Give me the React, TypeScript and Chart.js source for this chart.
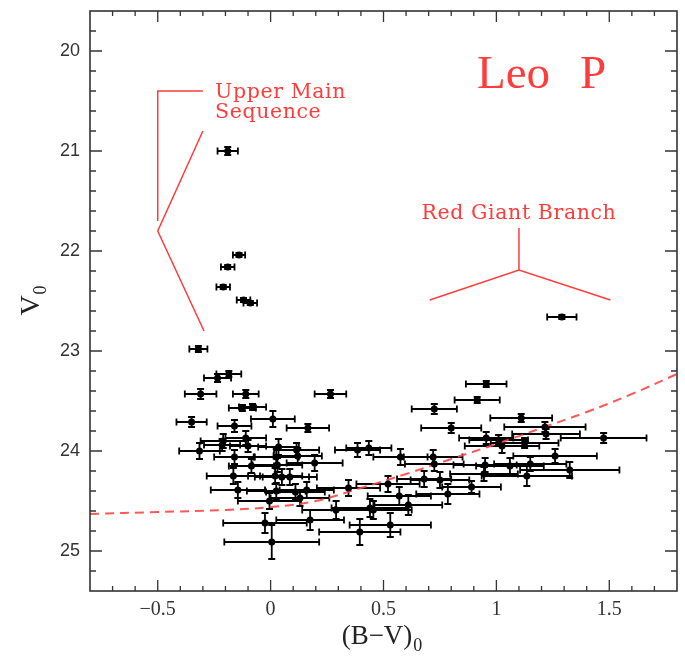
import React, { useEffect, useRef } from "react";
import { Chart, registerables } from "chart.js";
Chart.register(...registerables);

// (B-V)_0 colour of each star
const starColor = [
  -0.19, -0.14, -0.19, -0.21, -0.12, -0.09, 1.29,
  -0.32, -0.235, -0.185, -0.31, -0.11, 0.265, -0.125, -0.08, -0.35, -0.16, 0.01, 0.165,
  -0.21, -0.11, -0.315, -0.215, -0.1, 0.035, 0.115, -0.16, 0.025, 0.12, -0.085, 0.195,
  -0.165, 0.02, 0.05, 0.085, -0.145, 0.025, 0.11, 0.16, -0.005, -0.025, 0.175, 0.005,
  0.395, 0.29, 0.345, 0.385, 0.435, 0.44, 0.455, 0.53, 0.52, 0.03,
  0.955, 0.915, 0.725, 1.11, 0.8, 1.215, 1.22, 0.955, 1.01, 1.125, 1.475, 1.025,
  0.575, 0.72, 0.725, 1.26, 0.95, 1.06, 1.15, 1.325, 0.945, 1.135, 0.68, 0.75, 0.89,
  0.57, 0.785, 0.61, 0.13,
];
// V_0 magnitude of each star
const starMag = [
  21.0, 22.04, 22.16, 22.36, 22.49, 22.52, 22.66,
  22.98, 23.27, 23.23, 23.43, 23.43, 23.43, 23.57, 23.56, 23.71, 23.75, 23.68, 23.77,
  23.9, 23.87, 24.0, 23.94, 23.95, 23.96, 23.99, 24.06, 24.06, 24.05, 24.15, 24.12,
  24.25, 24.25, 24.26, 24.26, 24.39, 24.4, 24.41, 24.39, 24.5, 24.72, 24.69, 24.91,
  24.81, 24.59, 24.37, 23.99, 23.97, 24.57, 24.59, 24.74, 24.33, 24.14,
  23.33, 23.49, 23.58, 23.67, 23.77, 23.76, 23.83, 23.87, 23.89, 23.92, 23.87, 23.95,
  24.06, 24.06, 24.13, 24.05, 24.14, 24.15, 24.13, 24.19, 24.23, 24.25, 24.28, 24.29, 24.36,
  24.45, 24.43, 24.54, 24.47,
];
// colour uncertainty
const colorErr = [
  0.045, 0.027, 0.03, 0.03, 0.03, 0.03, 0.065,
  0.04, 0.06, 0.055, 0.07, 0.057, 0.07, 0.06, 0.06, 0.067, 0.075, 0.097, 0.094,
  0.1, 0.09, 0.09, 0.08, 0.08, 0.09, 0.1, 0.09, 0.1, 0.107, 0.1, 0.124,
  0.118, 0.12, 0.12, 0.12, 0.12, 0.13, 0.13, 0.12, 0.14, 0.185, 0.15, 0.21,
  0.18, 0.15, 0.14, 0.1, 0.1, 0.17, 0.17, 0.18, 0.14, 0.11,
  0.09, 0.1, 0.1, 0.137, 0.133, 0.18, 0.15, 0.12, 0.13, 0.15, 0.19, 0.165,
  0.12, 0.13, 0.13, 0.185, 0.14, 0.15, 0.16, 0.22, 0.15, 0.2, 0.12, 0.13, 0.13,
  0.14, 0.14, 0.15, 0.13,
];
// magnitude uncertainty
const magErr = [
  0.04, 0.02, 0.02, 0.02, 0.02, 0.02, 0.02,
  0.03, 0.04, 0.03, 0.05, 0.04, 0.04, 0.03, 0.03, 0.05, 0.06, 0.08, 0.04,
  0.07, 0.07, 0.08, 0.06, 0.06, 0.08, 0.07, 0.07, 0.08, 0.08, 0.07, 0.08,
  0.08, 0.08, 0.08, 0.08, 0.08, 0.08, 0.08, 0.08, 0.08, 0.1, 0.1, 0.17,
  0.13, 0.09, 0.08, 0.07, 0.07, 0.09, 0.09, 0.12, 0.08, 0.07,
  0.03, 0.03, 0.05, 0.04, 0.05, 0.05, 0.05, 0.06, 0.05, 0.05, 0.05, 0.07,
  0.08, 0.07, 0.07, 0.07, 0.07, 0.08, 0.07, 0.08, 0.07, 0.1, 0.08, 0.08, 0.06,
  0.09, 0.1, 0.1, 0.08,
];

// completeness limit (dashed curve)
const limitColor = [-0.8, -0.5, -0.2, 0, 0.2, 0.4, 0.6, 0.8, 1.0, 1.2, 1.4, 1.6, 1.8];
const limitMag = [24.63, 24.61, 24.59, 24.56, 24.5, 24.37, 24.23, 24.08, 23.93, 23.77, 23.61, 23.43, 23.23];

const xTicks = [-0.5, 0, 0.5, 1, 1.5];
const xTickLabels = ["\u22120.5", "0", "0.5", "1", "1.5"];
const yTicks = [20, 21, 22, 23, 24, 25];
const yTickLabels = ["20", "21", "22", "23", "24", "25"];

const RED = "rgb(255,60,60)";

const overlay = {
  id: "overlay",
  beforeDatasetsDraw(chart: any) {
    const ctx = chart.ctx;
    const xs = chart.scales.x;
    const ys = chart.scales.y;
    ctx.save();
    ctx.strokeStyle = "#000";
    ctx.lineWidth = 1.8;
    const cap = 3.5;
    for (let i = 0; i < starColor.length; i++) {
      const px = xs.getPixelForValue(starColor[i]);
      const py = ys.getPixelForValue(starMag[i]);
      const x1 = xs.getPixelForValue(starColor[i] - colorErr[i]);
      const x2 = xs.getPixelForValue(starColor[i] + colorErr[i]);
      const y1 = ys.getPixelForValue(starMag[i] - magErr[i]);
      const y2 = ys.getPixelForValue(starMag[i] + magErr[i]);
      ctx.beginPath();
      ctx.moveTo(x1, py); ctx.lineTo(x2, py);
      ctx.moveTo(x1, py - cap); ctx.lineTo(x1, py + cap);
      ctx.moveTo(x2, py - cap); ctx.lineTo(x2, py + cap);
      ctx.moveTo(px, y1); ctx.lineTo(px, y2);
      ctx.moveTo(px - cap, y1); ctx.lineTo(px + cap, y1);
      ctx.moveTo(px - cap, y2); ctx.lineTo(px + cap, y2);
      ctx.stroke();
    }
    ctx.restore();
  },
  afterDraw(chart: any) {
    const ctx = chart.ctx;
    const xs = chart.scales.x;
    const ys = chart.scales.y;
    const a = chart.chartArea;
    const X = (v: number) => xs.getPixelForValue(v);
    const Y = (v: number) => ys.getPixelForValue(v);
    ctx.save();
    // frame
    ctx.strokeStyle = "#333";
    ctx.lineWidth = 1.6;
    ctx.strokeRect(a.left, a.top, a.right - a.left, a.bottom - a.top);
    ctx.lineWidth = 1.3;
    ctx.beginPath();
    for (let k = -7; k <= 17; k++) {
      const px = X(k / 10);
      const len = k % 5 === 0 ? 11 : 5;
      ctx.moveTo(px, a.bottom); ctx.lineTo(px, a.bottom - len);
      ctx.moveTo(px, a.top); ctx.lineTo(px, a.top + len);
    }
    for (let k = 99; k <= 126; k++) {
      const py = Y(k / 5);
      const len = k % 5 === 0 ? 12 : 6;
      ctx.moveTo(a.left, py); ctx.lineTo(a.left + len, py);
      ctx.moveTo(a.right, py); ctx.lineTo(a.right - len, py);
    }
    ctx.stroke();

    // annotations
    ctx.strokeStyle = RED;
    ctx.lineWidth = 1.5;
    ctx.beginPath();
    ctx.moveTo(X(-0.3), Y(20.4)); ctx.lineTo(X(-0.5), Y(20.4)); ctx.lineTo(X(-0.5), Y(21.7));
    ctx.moveTo(X(-0.3), Y(20.8)); ctx.lineTo(X(-0.5), Y(21.8)); ctx.lineTo(X(-0.295), Y(22.8));
    ctx.moveTo(X(1.1), Y(21.77)); ctx.lineTo(X(1.1), Y(22.19));
    ctx.moveTo(X(0.705), Y(22.49)); ctx.lineTo(X(1.1), Y(22.19)); ctx.lineTo(X(1.505), Y(22.49));
    ctx.stroke();

    ctx.fillStyle = RED;
    ctx.textBaseline = "alphabetic";
    ctx.textAlign = "left";
    ctx.font = '20.5px "DejaVu Serif"';
    (ctx as any).letterSpacing = "0.6px";
    ctx.fillText("Upper Main", X(-0.246), Y(20.465));
    ctx.fillText("Sequence", X(-0.246), Y(20.665));
    ctx.textAlign = "center";
    ctx.fillText("Red Giant Branch", X(1.1), Y(21.675));
    (ctx as any).letterSpacing = "0px";
    ctx.textAlign = "left";
    ctx.font = '47px "Liberation Serif"';
    ctx.fillText("Leo", X(0.914), Y(20.365));
    ctx.fillText("P", X(1.37), Y(20.365));

    // axis titles
    ctx.fillStyle = "#222";
    ctx.font = '27px "Liberation Serif"';
    const main = "(B\u2212V)";
    const w1 = ctx.measureText(main).width;
    ctx.font = '18px "Liberation Serif"';
    const w2 = ctx.measureText("0").width;
    const cx = (a.left + a.right) / 2 - 2;
    const startX = cx - (w1 + w2) / 2;
    ctx.textAlign = "left";
    ctx.font = '27px "Liberation Serif"';
    ctx.fillText(main, startX, 644);
    ctx.font = '18px "Liberation Serif"';
    ctx.fillText("0", startX + w1 + 1, 651);

    ctx.translate(39, (a.top + a.bottom) / 2);
    ctx.rotate(-Math.PI / 2);
    ctx.font = '28px "Liberation Serif"';
    const vw = ctx.measureText("V").width;
    ctx.font = '18px "Liberation Serif"';
    const zw = ctx.measureText("0").width;
    ctx.font = '28px "Liberation Serif"';
    ctx.fillText("V", -(vw + zw) / 2, 0);
    ctx.font = '18px "Liberation Serif"';
    ctx.fillText("0", -(vw + zw) / 2 + vw + 1, 7);
    ctx.restore();
  },
};

export default function App() {
  const ref = useRef<HTMLCanvasElement | null>(null);
  useEffect(() => {
    document.body.style.margin = "0";
    const canvas = ref.current!;
    const points = starColor.map((c, i) => ({ x: c, y: starMag[i] }));
    const limit = limitColor.map((c, i) => ({ x: c, y: limitMag[i] }));
    const chart = new Chart(canvas, {
      type: "scatter",
      data: {
        datasets: [
          {
            data: points,
            pointRadius: 3.5,
            pointBackgroundColor: "#000",
            pointBorderColor: "#000",
            pointBorderWidth: 0,
          },
          {
            type: "line",
            data: limit,
            borderColor: "rgba(255,70,70,0.9)",
            borderWidth: 2,
            borderDash: [9, 6],
            pointRadius: 0,
            tension: 0.4,
            fill: false,
          } as any,
        ],
      },
      options: {
        animation: false,
        responsive: false,
        devicePixelRatio: 1,
        layout: { padding: { top: 11, right: 8, left: 0, bottom: 0 } },
        plugins: { legend: { display: false }, tooltip: { enabled: false } },
        scales: {
          x: {
            type: "linear",
            min: -0.8,
            max: 1.8,
            grid: { display: false, drawTicks: false },
            border: { display: false },
            afterBuildTicks: (s: any) => { s.ticks = xTicks.map((v) => ({ value: v })); },
            afterFit: (s: any) => { s.height = 72; s.paddingLeft = 0; s.paddingRight = 0; },
            ticks: {
              padding: 7,
              color: "#333",
              font: { family: "Liberation Serif", size: 20 },
              maxRotation: 0,
              autoSkip: false,
              callback: (v: any) => xTickLabels[xTicks.indexOf(Number(v))] ?? "",
            },
          },
          y: {
            type: "linear",
            reverse: true,
            min: 19.6,
            max: 25.4,
            grid: { display: false, drawTicks: false },
            border: { display: false },
            afterBuildTicks: (s: any) => { s.ticks = yTicks.map((v) => ({ value: v })); },
            afterFit: (s: any) => { s.width = 90; s.paddingTop = 0; s.paddingBottom = 0; },
            ticks: {
              padding: 10,
              color: "#333",
              font: { family: "Liberation Sans", size: 18 },
              autoSkip: false,
              callback: (v: any) => yTickLabels[yTicks.indexOf(Number(v))] ?? "",
            },
          },
        },
      },
      plugins: [overlay],
    });
    return () => chart.destroy();
  }, []);
  return <canvas ref={ref} width={685} height={663} style={{ display: "block" }} />;
}
